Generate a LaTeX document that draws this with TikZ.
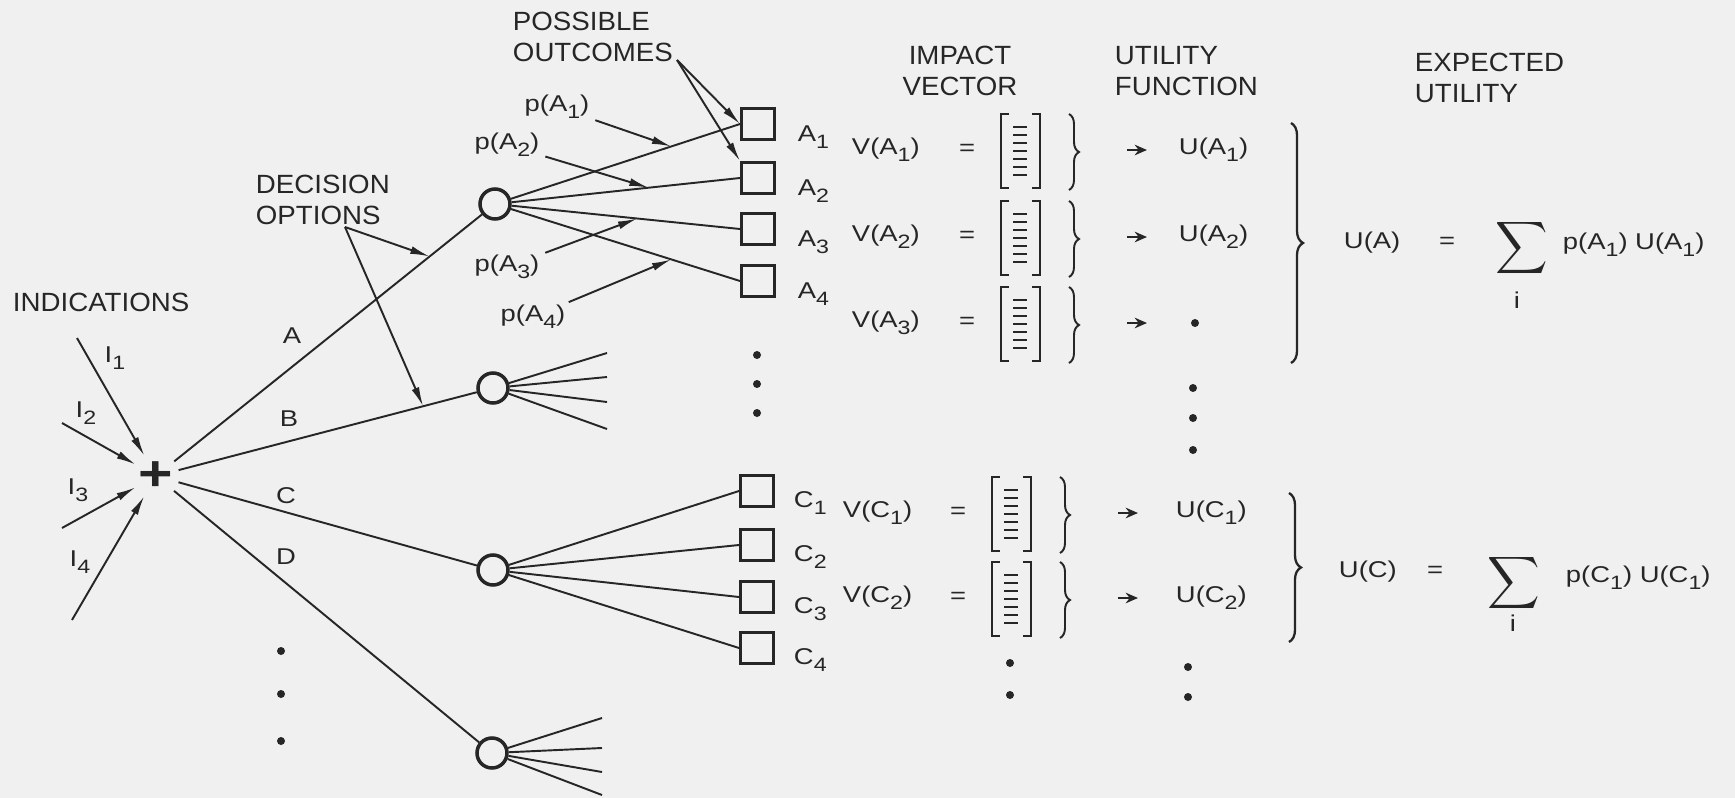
\documentclass[tikz,border=0pt]{standalone}
\usepackage{amsmath}
\usepackage{fontspec}
\setmainfont[FakeStretch=1.2]{Liberation Sans}
\newfontfamily\headfont[FakeStretch=1.05]{Liberation Sans}
\usetikzlibrary{decorations.pathreplacing, arrows.meta, positioning}

\newcommand{\ix}[1]{\raisebox{-0.6ex}{\fontsize{11}{11}\selectfont #1}}

\begin{document}
\begin{tikzpicture}[x=0.02cm, y=-0.02cm, line width=1.1pt, color=black!85,
  every node/.style={font=\fontsize{13}{15}\selectfont, inner sep=0pt},
  head/.style={font=\headfont\fontsize{15}{18}\selectfont, align=left},
  chance/.style={circle, draw, line width=2pt, minimum size=0.6cm},
  outcome/.style={rectangle, draw, line width=1.7pt, minimum width=0.66cm, minimum height=0.62cm},
  ptr/.style={-{Latex[length=11pt, width=4.5pt]}},
  bigbrace/.style={decorate, decoration={brace, amplitude=#1}},
]

\fill [black!6] (0,0) rectangle (1735,798);
\useasboundingbox (0,0) rectangle (1735,798);

\node (indic) [head, anchor=west] at (12,302) {INDICATIONS};
\node (decopt) [head, anchor=west] at (255,200) {DECISION\\OPTIONS};
\node (possout) [head, anchor=west] at (512,37) {POSSIBLE\\OUTCOMES};
\node (impact) [head, align=center] at (960,71) {IMPACT\\VECTOR};
\node (utilfn) [head, anchor=west] at (1114,71) {UTILITY\\FUNCTION};
\node (expu) [head, anchor=west] at (1414,78) {EXPECTED\\UTILITY};

% decision point and chance nodes
\node (plus) [circle, minimum size=0.88cm, font=\fontsize{28}{28}\selectfont\bfseries] at (156,476) {+};
\node (ca) [chance] at (495,204) {};
\node (cb) [chance] at (493,388) {};
\node (cc) [chance] at (493,570) {};
\node (cd) [chance] at (492,753) {};

\foreach \n/\sx/\sy/\lx/\ly in {1/77/338/115/358, 2/62/423/86/413, 3/62/528/78/490, 4/72/620/80/562} {
  \coordinate (i\n) at (\sx,\sy);
  \node (li\n) at (\lx,\ly) {I\ix{\n}};
  \draw [ptr] (i\n) -- (plus);
}

\draw (plus) -- (ca) coordinate [pos=0.83] (oa);
\draw (plus) -- (cb) coordinate [pos=0.82] (ob);
\draw (plus) -- (cc);
\draw (plus) -- (cd);
\node (optA) at (292,336) {A};
\node (optB) at (289,419) {B};
\node (optC) at (286,496) {C};
\node (optD) at (286,557) {D};

\coordinate (dop) at (345,227);
\draw [ptr] (dop) -- (oa);
\draw [ptr] (dop) -- (ob);

% outcomes of A
\foreach \n/\y in {1/124, 2/178, 3/229, 4/281} {
  \node (a\n) [outcome] at (758,\y) {};
  \node (la\n) [right=0.42cm of a\n, yshift=-0.27cm] {A\ix{\n}};
}
\foreach \n/\p in {1/0.7, 2/0.6, 3/0.55, 4/0.7}
  \draw (ca) -- (a\n.west) coordinate [pos=\p] (sa\n);
\foreach \n/\x/\y in {1/557/107, 2/507/145, 3/507/267, 4/533/317} {
  \node (pa\n) at (\x,\y) {p(A\ix{\n})};
  \draw [ptr, shorten <=3pt] (pa\n) -- (sa\n);
}

\coordinate (po) at (677,60);
\draw [ptr] (po) -- (a1.west);
\draw [ptr] (po) -- (a2.north west);

% outcomes of C
\foreach \n/\y in {1/491, 2/545, 3/597, 4/648} {
  \node (c\n) [outcome] at (757,\y) {};
  \node (lc\n) [right=0.36cm of c\n, yshift=-0.24cm] {C\ix{\n}};
  \draw (cc) -- (c\n.west);
}

\foreach \k/\y in {1/353, 2/377, 3/402, 4/429} {
  \coordinate (b\k) at (607,\y);
  \draw (cb) -- (b\k);
}
\foreach \k/\y in {1/718, 2/748, 3/772, 4/795} {
  \coordinate (d\k) at (602,\y);
  \draw (cd) -- (d\k);
}

% impact vectors
\foreach \rw/\y/\dx/\v in {A1/150/0/{V(A\ix1)}, A2/237/0/{V(A\ix2)}, A3/323/0/{V(A\ix3)}, C1/513/-9/{V(C\ix1)}, C2/598/-9/{V(C\ix2)}} {
  \node (v\rw) [anchor=west] at (851+\dx,\y) {\v};
  \node (eq\rw) at (967+\dx,\y) {=};
  \draw (1009+\dx,\y-36) -- (1001+\dx,\y-36) -- (1001+\dx,\y+38) -- (1009+\dx,\y+38);
  \draw (1032+\dx,\y-36) -- (1040+\dx,\y-36) -- (1040+\dx,\y+38) -- (1032+\dx,\y+38);
  \foreach \k in {0,...,6}
    \draw [line width=0.8pt] (1013+\dx,\y-23+8*\k) -- (1027+\dx,\y-23+8*\k);
  \draw [bigbrace=0.2cm] (1069+\dx,\y-36) -- (1069+\dx,\y+40);
  \coordinate (as\rw) at (1127+\dx,\y);
  \coordinate (ae\rw) at (1147+\dx,\y);
  \draw [-{Stealth[length=7pt, width=6pt]}, line width=1.5pt] (as\rw) -- (ae\rw);
}
\foreach \rw/\y/\dx/\u in {A1/150/0/{U(A\ix1)}, A2/237/0/{U(A\ix2)}, C1/513/-3/{U(C\ix1)}, C2/598/-3/{U(C\ix2)}}
  \node (u\rw) [anchor=west] at (1178+\dx,\y) {\u};

\foreach \x/\y in {757/355, 757/384, 757/413, 1195/323, 1193/388, 1193/418, 1193/450,
                   1010/663, 1010/695, 1188/667, 1188/697, 281/651, 281/694, 281/741}
  \fill (\x,\y) circle (0.08cm);

% expected utility
\draw [bigbrace=0.24cm, line width=1.3pt] (1291,123) -- (1291,363);
\draw [bigbrace=0.24cm, line width=1.3pt] (1289,493) -- (1289,642);

\node (uA) [anchor=west] at (1343,243) {U(A)};
\node (eqA) at (1447,243) {=};
\node (sumA) [font=\fontsize{22}{22}\selectfont] at (1522,248) {$\displaystyle\sum$};
\node (iA) at (1517,300) {i};
\node (eA) [anchor=west] at (1562,245) {p(A\ix1) U(A\ix1)};

\node (uC) [anchor=west] at (1338,572) {U(C)};
\node (eqC) at (1435,572) {=};
\node (sumC) [font=\fontsize{22}{22}\selectfont] at (1514,583) {$\displaystyle\sum$};
\node (iC) at (1513,623) {i};
\node (eC) [anchor=west] at (1565,578) {p(C\ix1) U(C\ix1)};
\end{tikzpicture}
\end{document}
